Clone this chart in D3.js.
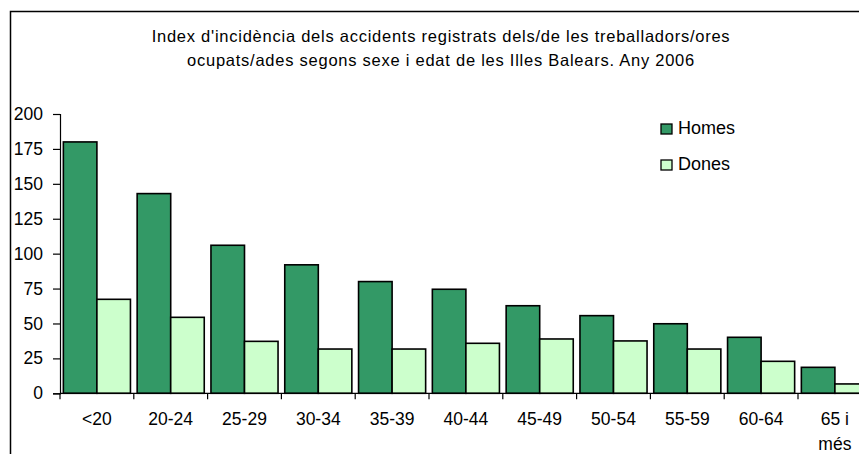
<!DOCTYPE html>
<html lang="ca">
<head>
    <meta charset="UTF-8">
    <title>Index d'incidència</title>
    <script src="https://d3js.org/d3.v7.min.js"></script>
    <style>
        body { margin: 0; background: #fff; }
        text { font-family: "Liberation Sans", Arial, sans-serif; fill: #000; }
    </style>
</head>
<body>
    <div id="chart"></div>

    <script>
        const categories = ["<20", "20-24", "25-29", "30-34", "35-39", "40-44", "45-49", "50-54", "55-59", "60-64", "65 i més"];
        const homes = [180, 143, 106, 92, 80, 74.5, 62.7, 55.6, 49.8, 40.1, 18.6];
        const dones = [67.3, 54.4, 37.2, 31.7, 31.7, 35.8, 38.9, 37.5, 31.7, 22.9, 6.7];
        const seriesNames = ["Homes", "Dones"];
        const yTicks = [0, 25, 50, 75, 100, 125, 150, 175, 200];
        const titleLines = [
            "Index d'incidència dels accidents registrats dels/de les treballadors/ores",
            "ocupats/ades segons sexe i edat de les Illes Balears. Any 2006"
        ];

        const W = 859, H = 454;
        const colors = { Homes: "#339966", Dones: "#CCFFCC" };

        const svg = d3.select("#chart")
          .append("svg")
            .attr("width", W)
            .attr("height", H);

        // chart frame (cut off at right and bottom)
        svg.append("rect")
            .attr("x", 10.5).attr("y", 11.5)
            .attr("width", 900).attr("height", 500)
            .attr("fill", "#fff")
            .attr("stroke", "#000")
            .attr("stroke-width", 1.5);

        // title
        svg.append("text")
            .attr("text-anchor", "middle")
            .style("font-size", "16.5px")
            .style("letter-spacing", "0.75px")
            .selectAll("tspan")
            .data(titleLines)
            .join("tspan")
              .attr("x", 441)
              .attr("y", (d, i) => 42 + i * 24)
              .text(d => d);

        const x0 = 60, yBase = 393.3, yTop = 114;
        const bandW = 73.8;

        const x = d3.scaleBand()
            .domain(categories)
            .range([x0, x0 + bandW * categories.length])
            .paddingInner(0)
            .paddingOuter(0);

        const xs = d3.scaleBand()
            .domain(seriesNames)
            .range([0, x.bandwidth()])
            .paddingOuter(0.1);

        const y = d3.scaleLinear()
            .domain([0, 200])
            .range([yBase, yTop]);

        // y axis
        const yAxis = svg.append("g")
            .attr("transform", `translate(${x0},0)`)
            .call(d3.axisLeft(y).tickValues(yTicks).tickSize(7).tickPadding(10));
        yAxis.select(".domain").attr("stroke-width", 1.2);
        yAxis.selectAll("line").attr("stroke-width", 1.2);
        yAxis.selectAll("text")
            .style("font-size", "17.5px")
            .style("font-family", "'Liberation Sans', Arial, sans-serif")
            .attr("fill", "#000");

        // bars
        const rows = categories.map((c, i) => ({ cat: c, Homes: homes[i], Dones: dones[i] }));
        const groups = svg.selectAll(".grp")
            .data(rows)
            .join("g")
              .attr("class", "grp")
              .attr("transform", d => `translate(${x(d.cat)},0)`);

        groups.selectAll("rect")
            .data(d => seriesNames.map(s => ({ key: s, value: d[s] })))
            .join("rect")
              .attr("x", d => xs(d.key))
              .attr("y", d => y(d.value))
              .attr("width", xs.bandwidth())
              .attr("height", d => yBase - y(d.value))
              .attr("fill", d => colors[d.key])
              .attr("stroke", "#000")
              .attr("stroke-width", 1.6);

        // x axis
        const xg = svg.append("g");
        xg.append("line")
            .attr("x1", x0).attr("x2", x0 + bandW * categories.length)
            .attr("y1", yBase).attr("y2", yBase)
            .attr("stroke", "#000").attr("stroke-width", 1.2);
        xg.selectAll(".xtick")
            .data(categories.concat([null]))
            .join("line")
              .attr("class", "xtick")
              .attr("x1", (d, i) => x0 + i * x.step())
              .attr("x2", (d, i) => x0 + i * x.step())
              .attr("y1", yBase).attr("y2", yBase + 6)
              .attr("stroke", "#000").attr("stroke-width", 1.2);

        const xLabels = xg.selectAll(".xlab")
            .data(categories)
            .join("text")
              .attr("class", "xlab")
              .attr("text-anchor", "middle")
              .style("font-size", "17.5px")
              .attr("y", 425);
        xLabels.each(function(d) {
            const t = d3.select(this);
            const cx = x(d) + x.bandwidth() / 2;
            const parts = d === "65 i més" ? ["65 i", "més"] : [d];
            parts.forEach((p, i) => {
                t.append("tspan").attr("x", cx).attr("dy", i === 0 ? 0 : 25).text(p);
            });
        });

        // legend
        const legend = svg.append("g");
        seriesNames.forEach((s, i) => {
            legend.append("rect")
                .attr("x", 661).attr("y", 124 + i * 36)
                .attr("width", 11).attr("height", 10)
                .attr("fill", colors[s])
                .attr("stroke", "#000").attr("stroke-width", 1.3);
            legend.append("text")
                .attr("x", 678).attr("y", 134 + i * 36)
                .style("font-size", "18px")
                .text(s);
        });
    </script>
</body>
</html>
